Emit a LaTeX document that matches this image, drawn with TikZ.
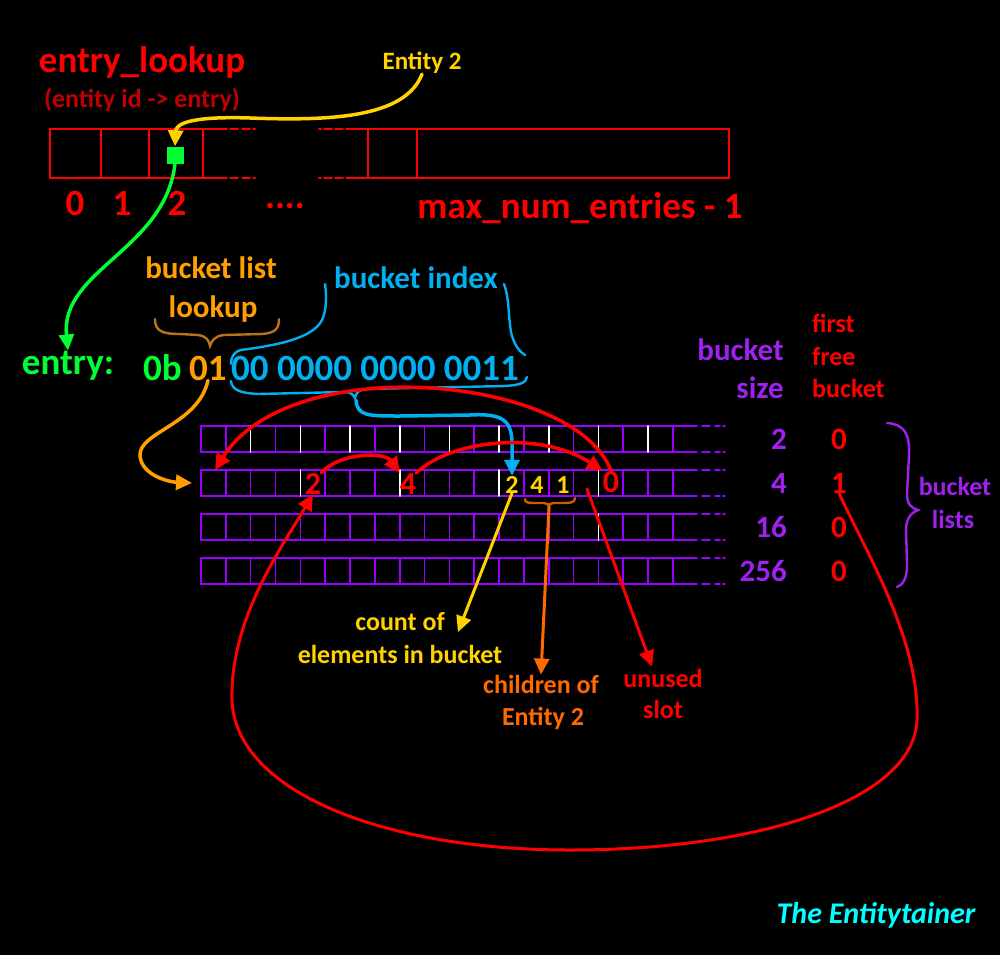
\documentclass[tikz,border=0pt]{standalone}
\usepackage{fontspec}
\setmainfont{Carlito}
\usetikzlibrary{arrows.meta,calc}
\definecolor{lkred}{HTML}{FF0000}
\definecolor{lkdark}{HTML}{C00000}
\definecolor{entyel}{HTML}{FFD200}
\definecolor{entgreen}{HTML}{00FF33}
\definecolor{lookorange}{HTML}{FFA000}
\definecolor{braceorange}{HTML}{B8741A}
\definecolor{childorange}{HTML}{FF6A00}
\definecolor{kidbrace}{HTML}{D05A00}
\definecolor{idxblue}{HTML}{00B0F0}
\definecolor{bkpurple}{HTML}{A020F0}
\definecolor{gridpurple}{HTML}{9900FF}
\definecolor{titlecyan}{HTML}{00FFFF}
\newcommand{\fsz}[1]{\fontsize{#1}{#1}\selectfont}

\begin{document}
\begin{tikzpicture}
[x=1pt,y=-1pt,line cap=round]
\tikzstyle{big}=[inner sep=0,anchor=base,font=\bfseries\fsz{37}]
\tikzstyle{mid}=[inner sep=0,anchor=base,font=\bfseries\fsz{31}]
\tikzstyle{sm}=[inner sep=0,anchor=base,font=\bfseries\fsz{26}]
\tikzstyle{gnum}=[inner sep=0,anchor=base,font=\bfseries\fsz{32}]
\tikzstyle{ynum}=[inner sep=0,anchor=base,font=\bfseries\fsz{26}]
\tikzstyle{arr}=[line width=3.5pt,-{Triangle[length=16pt,width=15pt]}]
\tikzstyle{lkbox}=[draw=lkred,line width=2pt]
\tikzstyle{gridl}=[draw=gridpurple,line width=1.6pt]
\tikzstyle{hand}=[line width=2.4pt]

\fill[black] (0,0) rectangle (1000,955);
\useasboundingbox (0,0) rectangle (1000,955);

\node[big,lkred] (title) at (142,73) {entry\_lookup};
\node[sm,lkdark] (sub) at (142,107) {(entity id -> entry)};
\node[sm,entyel,font=\bfseries\fsz{25}] (ent) at (422,70) {Entity 2};

\draw[lkbox] (227,129) -- (50,129) -- (50,178) -- (227,178);
\draw[lkbox] (346,129) -- (729,129) -- (729,178) -- (346,178);
\foreach \a/\b in {230/238,242/250,253/255,319/321,324/332,335/343}
  \draw[lkbox] (\a,129) -- (\b,129) (\a,178) -- (\b,178);
\foreach \x in {101,149,203,368,417}
  \draw[lkbox] (\x,129) -- (\x,178);
\node[fill=entgreen,minimum size=17pt,inner sep=0] (sq) at (175,155) {};

\node[big,lkred] (i0) at (75,215) {0};
\node[big,lkred] (i1) at (122,215) {1};
\node[big,lkred] (i2) at (177,215) {2};
\node[big,lkred] (dots) at (285,208) {....};
\node[big,lkred] (imax) at (580,218) {max\_num\_entries - 1};

\draw[arr,entyel] (ent.south) .. controls (405,118) and (330,121) .. (250,118)
  .. controls (190,116) and (176,124) .. (sq.north);

\node[big,entgreen] (lbl) at (68,374) {entry:};
\node[big,entgreen,anchor=base west] (pre) at (143,380) {0b};
\node[big,lookorange,anchor=base west] (lu) at (189,380) {01};
\node[big,idxblue,anchor=base west] (idx) at (231,380) {00 0000 0000 0011};
\draw[arr,entgreen] (sq.south) .. controls (165,250) and (60,270) .. (lbl.north);

\node[mid,lookorange] (bll1) at (211,278) {bucket list};
\node[mid,lookorange] (bll2) at (213,317) {lookup};
\node[mid,idxblue] (bix) at (416,288) {bucket index};

\draw[hand,braceorange] (155,319) .. controls (155,331) and (162,334) .. (180,334) -- (198,335)
  .. controls (206,336) and (209,340) .. (210,346) .. controls (212,340) and (215,336) .. (224,335)
  -- (262,334) .. controls (275,333) and (279,329) .. (279,319);
\draw[hand,idxblue] (325,284) .. controls (327,298) and (326,312) .. (322,320)
  .. controls (312,340) and (270,346) .. (241,350) .. controls (233,352) and (231,358) .. (231,364);
\draw[hand,idxblue] (504,284) .. controls (510,300) and (508,322) .. (512,336)
  .. controls (515,346) and (520,352) .. (525,355);
\draw[hand,idxblue] (231,381) .. controls (232,390) and (240,393) .. (258,394) -- (344,392)
  .. controls (350,392) and (353,394) .. (355,398) .. controls (356,393) and (358,390) .. (366,389)
  -- (505,386) .. controls (520,385) and (526,383) .. (527,377);
\coordinate (bt) at (356,400);

\foreach \t/\w/\f [count=\r] in {426/2/0,470/4/1,514/16/0,558/256/0}{
  \foreach \yy in {\t,\t+26}{
    \draw[gridl] (201,\yy) -- (697,\yy);
    \foreach \a/\b in {702/710,715/720,723/725}
      \draw[gridl] (\a,\yy) -- (\b,\yy);
  }
  \foreach \i in {0,...,19}{
    \pgfmathtruncatemacro\wh{(mod(\i,\w)==0)&&(\i>0)}
    \ifnum\wh=1 \def\cl{white}\else\def\cl{gridpurple}\fi
    \draw[gridl,draw=\cl] (201+\i*24.84,\t) -- (201+\i*24.84,\t+26);
  }
  \node[mid,bkpurple,anchor=base east] (sz\r) at (787,\t+23) {\w};
  \node[mid,lkred] (ff\r) at (839,\t+23) {\f};
}

\node[mid,bkpurple,anchor=base east] (bs1) at (784,360) {bucket};
\node[mid,bkpurple,anchor=base east] (bs2) at (784,398) {size};
\node[sm,lkred,anchor=base west] (fb1) at (812,332) {first};
\node[sm,lkred,anchor=base west] (fb2) at (812,365) {free};
\node[sm,lkred,anchor=base west] (fb3) at (812,397) {bucket};

\draw[hand,bkpurple] (887,423) .. controls (904,424) and (910,434) .. (909,455) -- (907,494)
  .. controls (907,504) and (911,508) .. (918,510) .. controls (910,513) and (906,520) .. (906,530)
  -- (907,565) .. controls (907,578) and (903,585) .. (897,587);
\node[sm,bkpurple] (lst1) at (955,495) {bucket};
\node[sm,bkpurple] (lst2) at (953,528) {lists};

\node[gnum,lkred] (r2a) at (313,494) {2};
\node[gnum,lkred] (r2b) at (408,494) {4};
\node[ynum,entyel] (c2) at (512,493) {2};
\node[ynum,entyel] (c4) at (537,493) {4};
\node[ynum,entyel] (c1) at (563,493) {1};
\node[gnum,lkred] (z0) at (611,492) {0};
\coordinate (e2) at (192,483);
\coordinate (t0) at (215,470);
\coordinate (us) at (587,489);

\draw[arr,lookorange] (lu.south) .. controls (198,425) and (138,432) .. (140,456)
  .. controls (142,476) and (170,482) .. (e2);
\draw[arr,idxblue] (bt) .. controls (357,416) and (368,416) .. (400,416) -- (470,415)
  .. controls (505,413) and (512,422) .. (512,445) -- (c2.north);
\draw[arr,lkred] (z0.north) .. controls (575,375) and (290,350) .. (t0);
\draw[arr,lkred] (r2a.north east) .. controls (340,452) and (385,452) .. (r2b.north west);
\draw[arr,lkred] (r2b.north east) .. controls (450,440) and (540,430) .. (z0.north west);
\draw[arr,lkred,line width=3pt] (ff2.south) .. controls (865,550) and (920,640) .. (917,720)
  .. controls (914,800) and (760,850) .. (570,850) .. controls (380,850) and (235,790) .. (232,700)
  .. controls (230,620) and (280,550) .. (r2a.south);

\draw[hand,kidbrace] (575,498) .. controls (575,503) and (570,503) .. (560,503) -- (553,503)
  .. controls (550,503) and (549,505) .. (549,507) .. controls (549,505) and (547,503) .. (544,503)
  -- (533,503) .. controls (527,503) and (525,502) .. (525,499);
\coordinate (ob) at (549,507);

\node[sm,entyel] (cnt1) at (400,630) {count of};
\node[sm,entyel] (cnt2) at (400,663) {elements in bucket};
\node[sm,childorange] (ch1) at (541,693) {children of};
\node[sm,childorange] (ch2) at (543,725) {Entity 2};
\node[sm,lkred] (un1) at (663,687) {unused};
\node[sm,lkred] (un2) at (663,718) {slot};

\draw[arr,entyel,line width=3pt] (c2.south) -- ($(cnt1.east)+(13,11)$);
\draw[arr,childorange,line width=3pt] (ob) -- (ch1.north);
\draw[arr,lkred,line width=3pt] (us) -- ($(un1.north)+(-11,-2)$);

\node[inner sep=0,anchor=base,titlecyan,font=\bfseries\itshape\fsz{30}] (brand) at (876,923) {The Entitytainer};
\end{tikzpicture}
\end{document}
